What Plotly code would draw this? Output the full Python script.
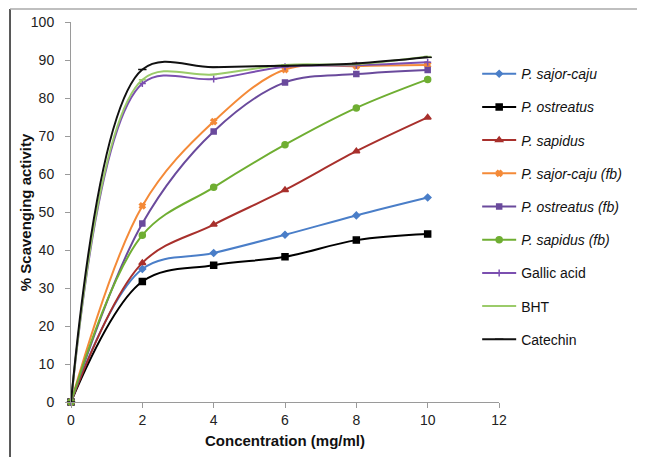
import plotly.graph_objects as go

conc = [0, 2, 4, 6, 8, 10]
series_names = ["P. sajor-caju", "P. ostreatus", "P. sapidus", "P. sajor-caju (fb)",
                "P. ostreatus (fb)", "P. sapidus (fb)", "Gallic acid", "BHT", "Catechin"]
sajor_caju = [0, 35.0, 39.2, 44.0, 49.1, 53.8]
ostreatus = [0, 31.7, 36.0, 38.2, 42.6, 44.2]
sapidus = [0, 36.6, 46.7, 55.8, 66.0, 74.9]
sajor_caju_fb = [0, 51.6, 73.8, 87.5, 88.4, 88.7]
ostreatus_fb = [0, 47.0, 71.2, 84.1, 86.3, 87.4]
sapidus_fb = [0, 43.9, 56.5, 67.7, 77.4, 84.9]
gallic_acid = [0, 83.8, 85.0, 88.2, 88.6, 89.4]
bht = [0, 84.8, 86.2, 88.7, 88.9, 90.9]
catechin = [0, 87.5, 88.1, 88.5, 89.1, 90.7]

values = [sajor_caju, ostreatus, sapidus, sajor_caju_fb, ostreatus_fb, sapidus_fb,
          gallic_acid, bht, catechin]
colors = ["#4A7EC8", "#000000", "#A8302C", "#F48A38", "#6A4A9C", "#6FAE32",
          "#7B4FB0", "#9BCB6A", "#111111"]
symbols = ["diamond", "square", "triangle-up", "x", "square-x", "circle",
           "cross-thin", "line-ew", "line-ew"]
sizes = [5, 6, 6, 5, 5, 6, 5, 5, 6]
italic = [True, True, True, True, True, True, False, False, False]

fig = go.Figure()
for i, name in enumerate(series_names):
    label = f"<i>{name}</i>" if italic[i] else name
    fig.add_trace(go.Scatter(
        x=conc, y=values[i], name=label, mode="lines+markers",
        line=dict(color=colors[i], width=2, shape="spline", smoothing=1.0),
        marker=dict(symbol=symbols[i], size=sizes[i], color=colors[i],
                    line=dict(color=colors[i], width=1.5)),
        legendgroup=f"g{i}",
        cliponaxis=False,
    ))

# the page body adds an 8px offset; compensate in the margins
fig.update_layout(
    width=645, height=457,
    margin=dict(l=63, r=154, t=14, b=63, autoexpand=False),
    paper_bgcolor="white", plot_bgcolor="white",
    font=dict(family="Liberation Sans, Arial, sans-serif", size=14, color="#222"),
    showlegend=True,
    legend=dict(x=0.949, xanchor="left", y=0.905, yanchor="top",
                font=dict(size=14, color="#111"), tracegroupgap=12,
                traceorder="grouped", itemwidth=34, bgcolor="rgba(0,0,0,0)"),
    xaxis=dict(range=[0, 12], tickvals=[0, 2, 4, 6, 8, 10, 12], showgrid=False,
               zeroline=False, showline=True, linecolor="#9a9a9a", linewidth=1,
               ticks="outside", ticklen=5, tickcolor="#9a9a9a", automargin=False,
               title=dict(text="<b>Concentration (mg/ml)</b>", font=dict(size=15, color="#111"), standoff=8)),
    yaxis=dict(range=[0, 100], tickvals=list(range(0, 101, 10)), showgrid=False,
               zeroline=False, showline=True, linecolor="#9a9a9a", linewidth=1,
               ticks="outside", ticklen=5, tickcolor="#9a9a9a", automargin=False,
               ticklabelstandoff=8),
)

fig.add_annotation(text="<b>% Scavenging activity</b>", textangle=-90, xref="paper", yref="paper",
                   x=-0.107, y=0.5, xanchor="center", yanchor="middle", showarrow=False,
                   font=dict(size=15, color="#111"))

fig.add_shape(type="line", xref="paper", yref="paper", x0=-0.1425, x1=-0.1425, y0=-0.16, y1=1.034,
              line=dict(color="#222", width=1.5))
fig.add_shape(type="line", xref="paper", yref="paper", x0=-0.1425, x1=1.45, y0=1.034, y1=1.034,
              line=dict(color="#aaaaaa", width=1.5))

fig.write_html("out.html")
